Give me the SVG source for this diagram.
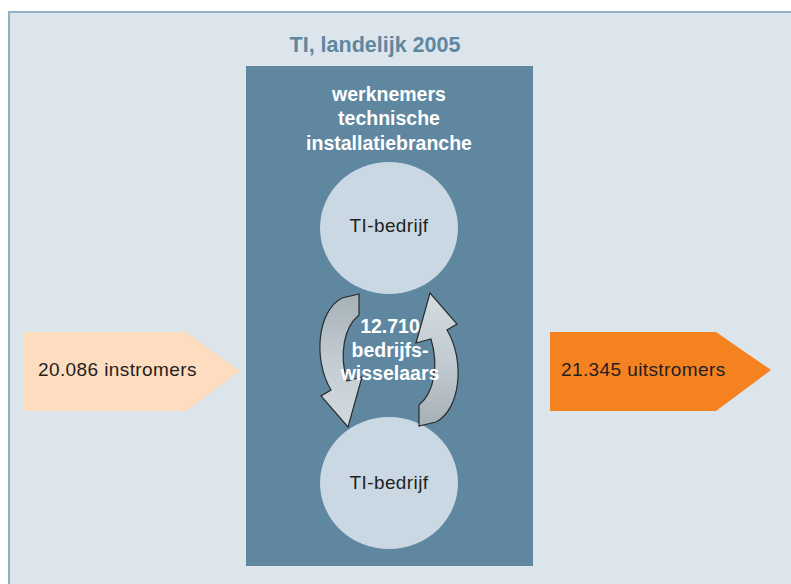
<svg xmlns="http://www.w3.org/2000/svg" width="791" height="584" viewBox="0 0 791 584">
<style>
.t{font-family:"Liberation Sans",Arial,sans-serif}
.wb{font-weight:bold;font-size:19.5px;fill:#ffffff;text-anchor:middle}
.lbl{font-size:19px;fill:#231f20;letter-spacing:0.4px}
.circ{fill:#c9d8e3}
.swirl{stroke:#2b2b2b;stroke-width:1.2;fill:url(#g)}
</style>
<defs>
<linearGradient id="g" x1="0" y1="0" x2="0" y2="1">
<stop offset="0" stop-color="#a6b0b7"/>
<stop offset="0.5" stop-color="#c3ccd2"/>
<stop offset="1" stop-color="#d3dbe0"/>
</linearGradient>
</defs>
<rect x="0" y="0" width="791" height="584" fill="#ffffff"/>
<rect x="9" y="12" width="800" height="600" fill="#dde5ec" stroke="#95afc2" stroke-width="2"/>
<text class="t" x="375" y="52" font-size="21.5" font-weight="bold" fill="#5f87a0" text-anchor="middle">TI, landelijk 2005</text>
<g id="branche">
<rect x="246" y="66" width="287" height="500" fill="#5f87a0"/>
<text class="t wb" x="389" y="101">werknemers</text>
<text class="t wb" x="389" y="125">technische</text>
<text class="t wb" x="389" y="150">installatiebranche</text>
</g>
<g id="bedrijf1">
<ellipse class="circ" cx="389" cy="228" rx="69" ry="66"/>
<text class="t lbl" x="389" y="232" text-anchor="middle">TI-bedrijf</text>
</g>
<g id="bedrijf2">
<ellipse class="circ" cx="389" cy="483" rx="69" ry="66"/>
<text class="t lbl" x="389" y="489" text-anchor="middle">TI-bedrijf</text>
</g>
<g id="connectors">
<path class="swirl" d="M342,298 L359,294 L359,315 C344,327 339,354 347,381 L362,377 L348,427 L321,396 L331,390 C313,360 317,311 342,298 Z"/>
<path class="swirl" transform="rotate(180 389 360)" d="M342,298 L359,294 L359,315 C344,327 339,354 347,381 L362,377 L348,427 L321,396 L331,390 C313,360 317,311 342,298 Z"/>
</g>
<g id="wisselaars">
<text class="t wb" x="390" y="333">12.710</text>
<text class="t wb" x="390" y="357">bedrijfs-</text>
<text class="t wb" x="390" y="380">wisselaars</text>
</g>
<g id="instromers">
<polygon points="24,332 186,332 240,371 186,411 24,411" fill="#fddcbf"/>
<text class="t lbl" x="38" y="376">20.086 instromers</text>
</g>
<g id="uitstromers">
<polygon points="550,332 716,332 771,370 716,411 550,411" fill="#f58220"/>
<text class="t lbl" x="561" y="376">21.345 uitstromers</text>
</g>
</svg>
